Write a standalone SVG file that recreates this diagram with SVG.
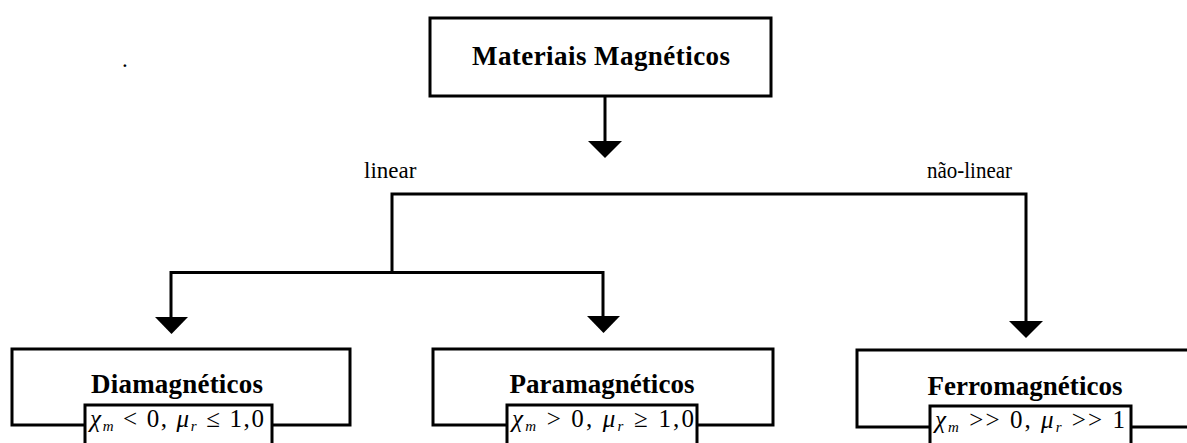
<svg xmlns="http://www.w3.org/2000/svg" width="1187" height="443" viewBox="0 0 1187 443">
<style>
.box{fill:#fff;stroke:#000;stroke-width:3}
.ln{fill:none;stroke:#000;stroke-width:3}
.hd{fill:#000}
.t{font-family:"Liberation Serif","Times New Roman",serif;font-weight:bold;font-size:27px;fill:#000;text-anchor:middle}
.lb{font-family:"Liberation Serif","Times New Roman",serif;font-size:23px;fill:#000}
.f{font-family:"Liberation Serif","Times New Roman",serif;font-size:25px;fill:#000}
.i{font-style:italic}
.s{font-style:italic;font-size:15px}
</style>
<rect width="1187" height="443" fill="#fff"/>
<text class="lb" x="122" y="67">.</text>
<g id="connectors">
<path class="ln" d="M605 97V144"/>
<polygon class="hd" points="588,141 622,141 605,158"/>
<path class="ln" d="M392 273V194H1026V323"/>
<path class="ln" d="M171 320V272.5H603V320"/>
<polygon class="hd" points="155,317 188,317 171.5,334"/>
<polygon class="hd" points="587,316 620,316 603.5,333"/>
<polygon class="hd" points="1009,321 1043,321 1026,338"/>
<text class="lb" x="364" y="178">linear</text>
<text class="lb" x="927" y="178" textLength="85" lengthAdjust="spacingAndGlyphs">não-linear</text>
</g>
<g id="materiais">
<rect class="box" x="430" y="18" width="341" height="78"/>
<text class="t" x="601" y="65" textLength="258" lengthAdjust="spacing">Materiais Magnéticos</text>
</g>
<g id="diamagneticos">
<rect class="box" x="12" y="349" width="338" height="76"/>
<text class="t" x="177" y="393" textLength="172" lengthAdjust="spacing">Diamagnéticos</text>
<rect class="box" x="85" y="405" width="187" height="50"/>
<text class="f" x="90" y="427" textLength="174" lengthAdjust="spacing"><tspan class="i">χ</tspan><tspan class="s" dy="4">m</tspan><tspan dy="-4"> &lt; 0, </tspan><tspan class="i">μ</tspan><tspan class="s" dy="4">r</tspan><tspan dy="-4"> ≤ 1,0</tspan></text>
</g>
<g id="paramagneticos">
<rect class="box" x="433" y="349" width="340" height="76"/>
<text class="t" x="602" y="393" textLength="185" lengthAdjust="spacing">Paramagnéticos</text>
<rect class="box" x="507" y="405" width="190" height="50"/>
<text class="f" x="512" y="427" textLength="182" lengthAdjust="spacing"><tspan class="i">χ</tspan><tspan class="s" dy="4">m</tspan><tspan dy="-4"> &gt; 0, </tspan><tspan class="i">μ</tspan><tspan class="s" dy="4">r</tspan><tspan dy="-4"> ≥ 1,0</tspan></text>
</g>
<g id="ferromagneticos">
<rect class="box" x="857" y="350" width="340" height="77"/>
<text class="t" x="1025" y="395" textLength="195" lengthAdjust="spacing">Ferromagnéticos</text>
<rect class="box" x="930" y="406" width="201" height="50"/>
<text class="f" x="935" y="428" textLength="190" lengthAdjust="spacing"><tspan class="i">χ</tspan><tspan class="s" dy="4">m</tspan><tspan dy="-4"> &gt;&gt; 0, </tspan><tspan class="i">μ</tspan><tspan class="s" dy="4">r</tspan><tspan dy="-4"> &gt;&gt; 1</tspan></text>
</g>
</svg>
